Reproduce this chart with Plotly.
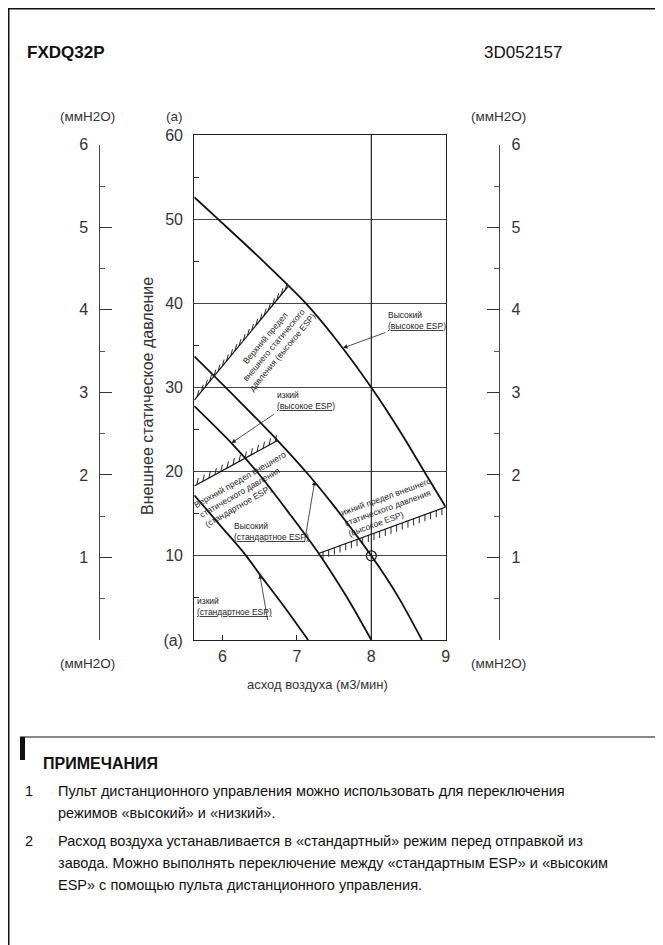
import numpy as np
import plotly.graph_objects as go

# page is drawn inside the browser body (8 px default margin) -> work in screen pixels
OX, OY = 8, 8
FW, FH = 655, 937
def px(x): return (x - OX) / FW
def py(y): return 1 - (y - OY) / FH

SANS = "Liberation Sans, Arial, sans-serif"

# ---------------- data ----------------
x_ticks = [6, 7, 8, 9]
y_ticks = [0, 10, 20, 30, 40, 50, 60]
y_ticktext = ["(a)", "10", "20", "30", "40", "50", "60"]
y_minor = [5, 15, 25, 35, 45, 55]
mm_ticks = [0, 1, 2, 3, 4, 5, 6]
mm_ticktext = ["", "1", "2", "3", "4", "5", "6"]

hi_hi_x = [5.62, 5.94, 6.5, 7.12, 7.5, 8.0, 8.4, 8.76, 9.0]
hi_hi_y = [52.6, 50.0, 45.4, 40.0, 36.0, 30.0, 24.6, 19.3, 15.8]
hi_std_x = [5.62, 6.2, 6.74, 7.13, 7.5, 8.0, 8.35, 8.68]
hi_std_y = [33.7, 28.6, 23.7, 19.9, 15.9, 10.0, 5.3, 0.0]
lo_hi_x = [5.62, 6.12, 6.5, 6.9, 7.3, 7.67, 8.0]
lo_hi_y = [27.8, 23.4, 19.6, 15.0, 10.2, 5.1, 0.0]
lo_std_x = [5.62, 6.0, 6.3, 6.5, 6.8, 7.15]
lo_std_y = [17.2, 13.3, 10.2, 7.8, 4.3, 0.0]

lim_hi_x = [5.62, 6.88]
lim_hi_y = [28.5, 42.0]
lim_std_x = [5.62, 6.74]
lim_std_y = [18.3, 23.7]
lim_lo_x = [7.3, 9.0]
lim_lo_y = [10.3, 15.8]

rated_x = [8.0]
rated_y = [10.0]
PA_PER_MM = 9.80665

# ---------------- figure ----------------
fig = go.Figure()

for xs, ys in [(hi_hi_x, hi_hi_y), (hi_std_x, hi_std_y), (lo_hi_x, lo_hi_y), (lo_std_x, lo_std_y)]:
    fig.add_trace(go.Scatter(x=xs, y=ys, mode="lines",
                             line=dict(color="#111", width=1.8, shape="spline", smoothing=0.8),
                             hoverinfo="skip", showlegend=False))

def hatch(xs, ys, n, dx, dy):
    hx, hy = [], []
    for t in np.linspace(0.03, 0.97, n):
        x0 = xs[0] + t * (xs[1] - xs[0])
        y0 = ys[0] + t * (ys[1] - ys[0])
        hx += [x0, x0 + dx, None]
        hy += [y0, y0 + dy, None]
    return hx, hy

for xs, ys, n, dx, dy in [(lim_hi_x, lim_hi_y, 22, 0.025, 0.8),
                          (lim_std_x, lim_std_y, 14, 0.02, 0.8),
                          (lim_lo_x, lim_lo_y, 22, 0.0, -0.8)]:
    fig.add_trace(go.Scatter(x=xs, y=ys, mode="lines", line=dict(color="#111", width=1.2),
                             hoverinfo="skip", showlegend=False))
    hx, hy = hatch(xs, ys, n, dx, dy)
    fig.add_trace(go.Scatter(x=hx, y=hy, mode="lines", line=dict(color="#111", width=0.9),
                             hoverinfo="skip", showlegend=False))

fig.add_trace(go.Scatter(x=rated_x, y=rated_y, mode="markers",
                         marker=dict(symbol="circle-open", size=10, color="#111", line=dict(width=1.2)),
                         hoverinfo="skip", showlegend=False))

# carrier traces for the mmH2O axes
fig.add_trace(go.Scatter(x=[None], y=[None], yaxis="y2", showlegend=False, hoverinfo="skip"))
fig.add_trace(go.Scatter(x=[None], y=[None], yaxis="y3", showlegend=False, hoverinfo="skip"))

fig.add_shape(type="line", xref="x", yref="y", x0=rated_x[0], x1=rated_x[0], y0=0, y1=60,
              line=dict(color="#222", width=1.2))

PLOT_TOP, PLOT_BOT = 135, 640
dom_y = [py(PLOT_BOT), py(PLOT_TOP)]
mm_top_px = PLOT_BOT - 6 * PA_PER_MM * (PLOT_BOT - PLOT_TOP) / 60
dom_mm = [py(PLOT_BOT), py(mm_top_px)]

TICKF = dict(family=SANS, size=16, color="#333")
fig.update_layout(
    width=FW, height=FH, autosize=False,
    margin=dict(l=0, r=0, t=0, b=0, autoexpand=False),
    paper_bgcolor="white", plot_bgcolor="rgba(0,0,0,0)",
    xaxis=dict(domain=[px(194.3), px(445.7)], range=[5.62, 9], tickvals=x_ticks,
               ticks="inside", ticklen=5, tickcolor="#222", showline=True, mirror=True,
               linecolor="#222", linewidth=1.3, showgrid=False, zeroline=False,
               tickfont=TICKF, ticklabelstandoff=2, anchor="y", fixedrange=True, automargin=False),
    yaxis=dict(domain=dom_y, range=[0, 60], tickvals=y_ticks, ticktext=y_ticktext,
               ticks="", showline=True, mirror=True, linecolor="#222", linewidth=1.3,
               showgrid=True, gridcolor="#444", gridwidth=1, zeroline=False,
               minor=dict(tickvals=y_minor, ticks="inside", ticklen=5, tickcolor="#222", showgrid=False),
               tickfont=TICKF, ticklabelstandoff=7, anchor="x", fixedrange=True, automargin=False),
    yaxis2=dict(domain=dom_mm, range=[0, 6], anchor="free", position=px(99.3), side="left",
                tickvals=mm_ticks, ticktext=mm_ticktext, ticks="inside", ticklen=12, tickcolor="#333",
                minor=dict(dtick=0.5, ticks="inside", ticklen=5, tickcolor="#555", showgrid=False),
                showline=True, linecolor="#444", linewidth=1, showgrid=False, zeroline=False,
                tickfont=TICKF, ticklabelstandoff=8, fixedrange=True, automargin=False),
    yaxis3=dict(domain=dom_mm, range=[0, 6], anchor="free", position=px(499.3), side="right",
                tickvals=mm_ticks, ticktext=mm_ticktext, ticks="inside", ticklen=12, tickcolor="#333",
                minor=dict(dtick=0.5, ticks="inside", ticklen=5, tickcolor="#555", showgrid=False),
                showline=True, linecolor="#444", linewidth=1, showgrid=False, zeroline=False,
                tickfont=TICKF, ticklabelstandoff=8, fixedrange=True, automargin=False),
)

ann = []
def A(x, y, text, size=13, family=SANS, xanchor="center", yanchor="middle", color="#333", **kw):
    ann.append(dict(x=px(x), y=py(y), xref="paper", yref="paper", text=text, showarrow=False,
                    font=dict(family=family, size=size, color=color), xanchor=xanchor, yanchor=yanchor, **kw))

A(25, 52, "<b>FXDQ32P</b>", size=17, xanchor="left", color="#111")
A(482, 52, "3D052157", size=17, xanchor="left", color="#111")
A(87, 117, "(ммH2O)", size=13.5)
A(174, 117, "(a)", size=13.5)
A(498, 117, "(ммH2O)", size=13.5)
A(87, 663, "(ммH2O)", size=13.5)
A(498, 663, "(ммH2O)", size=13.5)
A(317, 684, "асход воздуха (м3/мин)", size=13)
A(147, 396, "Внешнее статическое давление", size=16, textangle=-90)

# in-chart labels (data coords)
LF = dict(family=SANS, size=8.5, color="#222")
def L(x, y, text, angle=0, xanchor="left", align="left"):
    ann.append(dict(x=x, y=y, xref="x", yref="y", text=text, showarrow=False, font=LF,
                    textangle=angle, xanchor=xanchor, yanchor="middle", align=align))
def arrow(x, y, ax, ay):
    ann.append(dict(x=x, y=y, ax=ax, ay=ay, xref="x", yref="y", axref="x", ayref="y", text="",
                    showarrow=True, arrowhead=2, arrowsize=1.1, arrowwidth=0.8, arrowcolor="#222"))

L(8.20, 38.0, "Высокий<br><u>(высокое ESP</u>)")
arrow(7.62, 34.7, 8.21, 36.6)
L(6.70, 28.4, "изкий<br><u>(высокое ESP</u>)")
arrow(6.12, 23.4, 6.71, 26.95)
L(6.13, 12.9, "Высокий<br><u>(стандартное ESP)</u>")
arrow(7.24, 18.9, 7.10, 11.5)
L(5.63, 4.0, "изкий<br><u>(стандартное ESP)</u>")
arrow(6.5, 7.8, 6.61, 2.2)

ann.append(dict(x=6.69, y=35.0, xref="x", yref="y", showarrow=False, font=LF, textangle=-50,
                text="Верхний предел<br>внешнего статического<br>давления (высокое ESP)", align="center"))
ann.append(dict(x=6.31, y=18.0, xref="x", yref="y", showarrow=False, font=LF, textangle=-30,
                text="Верхний предел внешнего<br>статического давления<br>(стандартное ESP)", align="left"))
ann.append(dict(x=8.25, y=15.8, xref="x", yref="y", showarrow=False, font=LF, textangle=-20,
                text="ижний предел внешнего<br>статического давления<br>(высокое ESP)", align="left"))

# notes
A(41, 763, "<b>ПРИМЕЧАНИЯ</b>", size=16, xanchor="left", color="#111")
NF = 14.5
NC = "#111"
A(23, 791, "1", size=NF, xanchor="left", color=NC)
A(56, 791, "Пульт дистанционного управления можно использовать для переключения", size=NF, xanchor="left", color=NC)
A(56, 813, "режимов «высокий» и «низкий».", size=NF, xanchor="left", color=NC)
A(23, 841, "2", size=NF, xanchor="left", color=NC)
A(56, 841, "Расход воздуха устанавливается в «стандартный» режим перед отправкой из", size=NF, xanchor="left", color=NC)
A(56, 863, "завода. Можно выполнять переключение между «стандартным ESP» и «высоким", size=NF, xanchor="left", color=NC)
A(56, 885, "ESP» с помощью пульта дистанционного управления.", size=NF, xanchor="left", color=NC)

fig.update_layout(annotations=ann)

# page frame and notes separator
fig.add_shape(type="rect", xref="paper", yref="paper", x0=px(8.5), x1=px(660), y0=py(960), y1=py(8.5),
              line=dict(color="#111", width=2))
fig.add_shape(type="line", xref="paper", yref="paper", x0=px(20), x1=px(663), y0=py(737), y1=py(737),
              line=dict(color="#111", width=1))
fig.add_shape(type="rect", xref="paper", yref="paper", x0=px(20), x1=px(25), y0=py(760), y1=py(737),
              line=dict(width=0), fillcolor="#111")

fig.write_html("out.html")
